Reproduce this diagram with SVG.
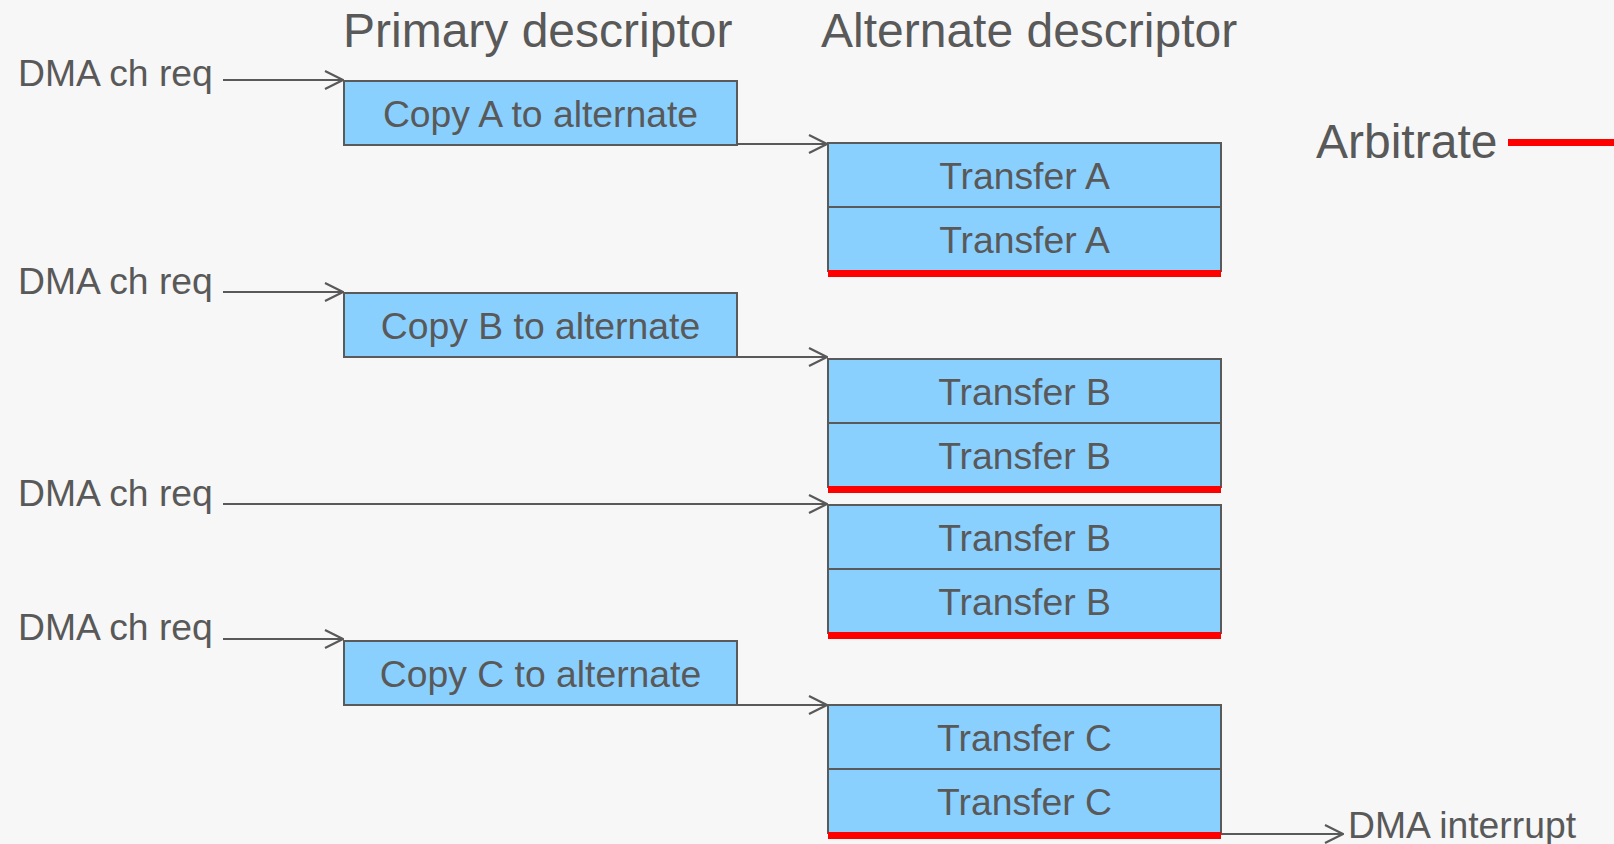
<svg xmlns="http://www.w3.org/2000/svg" width="1614" height="844" viewBox="0 0 1614 844">
  <defs>
    <style>
      text { font-family: "Liberation Sans", Arial, sans-serif; fill: #595959; }
      .head { font-size: 48px; }
      .lbl { font-size: 37.3px; }
      .mid { text-anchor: middle; }
      .box { fill: #8AD0FF; stroke: #5A5A5A; stroke-width: 2; }
      .bar { fill: #FF0000; }
      .wire { fill: none; stroke: #595959; stroke-width: 2.2; }
    </style>
    <marker id="chev" viewBox="0 0 20 20" refX="19" refY="10" markerWidth="20" markerHeight="20" markerUnits="userSpaceOnUse" orient="auto">
      <path d="M1,1 L19,10 L1,19" fill="none" stroke="#595959" stroke-width="2.2"/>
    </marker>
  </defs>

  <rect width="1614" height="844" fill="#F7F7F7"/>

  <!-- column headings -->
  <text class="head" x="343" y="47">Primary descriptor</text>
  <text class="head" x="821" y="47">Alternate descriptor</text>

  <!-- legend -->
  <g id="legend">
    <text class="head" x="1316" y="158">Arbitrate</text>
    <rect class="bar" x="1508" y="139" width="106" height="7"/>
  </g>

  <!-- request labels -->
  <text class="lbl" x="18" y="86">DMA ch req</text>
  <text class="lbl" x="18" y="294">DMA ch req</text>
  <text class="lbl" x="18" y="506">DMA ch req</text>
  <text class="lbl" x="18" y="640">DMA ch req</text>
  <text class="lbl" x="1348" y="838">DMA interrupt</text>

  <!-- primary descriptor steps -->
  <g id="copyA">
    <rect class="box" x="344" y="81" width="393" height="64"/>
    <text class="lbl mid" x="540.5" y="127">Copy A to alternate</text>
  </g>
  <g id="copyB">
    <rect class="box" x="344" y="293" width="393" height="64"/>
    <text class="lbl mid" x="540.5" y="339">Copy B to alternate</text>
  </g>
  <g id="copyC">
    <rect class="box" x="344" y="641" width="393" height="64"/>
    <text class="lbl mid" x="540.5" y="687">Copy C to alternate</text>
  </g>

  <!-- alternate descriptor transfers -->
  <g id="transferA">
    <rect class="box" x="828" y="143" width="393" height="64"/>
    <rect class="box" x="828" y="207" width="393" height="64"/>
    <text class="lbl mid" x="1024.5" y="189">Transfer A</text>
    <text class="lbl mid" x="1024.5" y="253">Transfer A</text>
    <rect class="bar" x="828" y="270" width="393" height="7"/>
  </g>
  <g id="transferB1">
    <rect class="box" x="828" y="359" width="393" height="64"/>
    <rect class="box" x="828" y="423" width="393" height="64"/>
    <text class="lbl mid" x="1024.5" y="405">Transfer B</text>
    <text class="lbl mid" x="1024.5" y="469">Transfer B</text>
    <rect class="bar" x="828" y="486" width="393" height="7"/>
  </g>
  <g id="transferB2">
    <rect class="box" x="828" y="505" width="393" height="64"/>
    <rect class="box" x="828" y="569" width="393" height="64"/>
    <text class="lbl mid" x="1024.5" y="551">Transfer B</text>
    <text class="lbl mid" x="1024.5" y="615">Transfer B</text>
    <rect class="bar" x="828" y="632" width="393" height="7"/>
  </g>
  <g id="transferC">
    <rect class="box" x="828" y="705" width="393" height="64"/>
    <rect class="box" x="828" y="769" width="393" height="64"/>
    <text class="lbl mid" x="1024.5" y="751">Transfer C</text>
    <text class="lbl mid" x="1024.5" y="815">Transfer C</text>
    <rect class="bar" x="828" y="832" width="393" height="7"/>
  </g>

  <!-- connectors -->
  <g id="connectors">
    <path class="wire" d="M223,80 H343" marker-end="url(#chev)"/>
    <path class="wire" d="M223,292 H343" marker-end="url(#chev)"/>
    <path class="wire" d="M223,504 H827" marker-end="url(#chev)"/>
    <path class="wire" d="M223,639 H343" marker-end="url(#chev)"/>
    <path class="wire" d="M737,144 H827" marker-end="url(#chev)"/>
    <path class="wire" d="M737,357 H827" marker-end="url(#chev)"/>
    <path class="wire" d="M737,705 H827" marker-end="url(#chev)"/>
    <path class="wire" d="M1221,834 H1343" marker-end="url(#chev)"/>
  </g>
</svg>
